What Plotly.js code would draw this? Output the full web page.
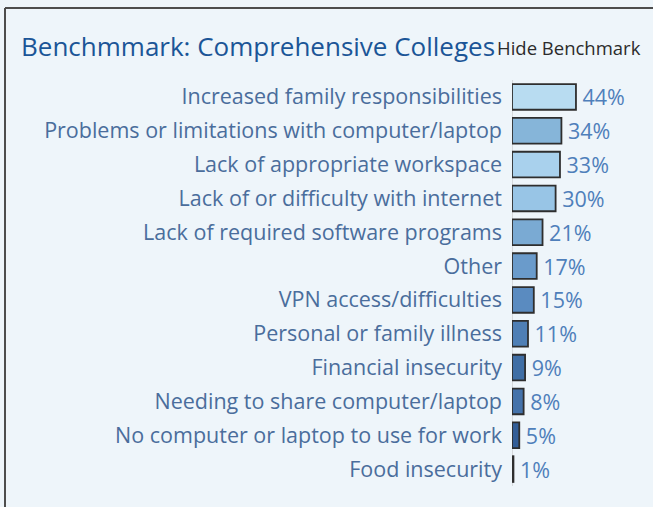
<!DOCTYPE html>
<html>
<head>
<meta charset="utf-8">
<script src="https://cdn.plot.ly/plotly-3.0.1.min.js"></script>
<style>
html,body{margin:0;padding:0;background:#eef5fa;}
#chart{width:653px;height:507px;}
</style>
</head>
<body>
<div id="chart"></div>
<script>
const categories = [
  "Increased family responsibilities",
  "Problems or limitations with computer/laptop",
  "Lack of appropriate workspace",
  "Lack of or difficulty with internet",
  "Lack of required software programs",
  "Other",
  "VPN access/difficulties",
  "Personal or family illness",
  "Financial insecurity",
  "Needing to share computer/laptop",
  "No computer or laptop to use for work",
  "Food insecurity"
];
const values = [44, 34, 33, 30, 21, 17, 15, 11, 9, 8, 5, 1];
const barColors = ["#b8dcf1", "#86b5d9", "#a9d1ed", "#98c5e6", "#7aaad3", "#6a9bcb",
                   "#5a8bc0", "#4f7fb5", "#3f6ea5", "#4472aa", "#335e97", "#1c2f4a"];
const titleText = "Benchmmark: Comprehensive Colleges";
const buttonText = "Hide Benchmark";

const trace = {
  type: "bar",
  orientation: "h",
  y: categories,
  x: values,
  text: values.map(v => "\u2009" + v + "%"),
  textposition: "outside",
  cliponaxis: false,
  constraintext: "none",
  textfont: {family: "Open Sans", size: 21.5, color: "#4f7fba"},
  marker: {color: barColors, line: {color: "#2e2e2e", width: 1.8}},
  width: 0.76,
  hoverinfo: "none"
};

const pw = 141, ph = 406, pl = 512, pt = 80;
function px(xPix){ return (xPix - pl) / pw; }
function py(yPix){ return (pt + ph - yPix) / ph; }

const layout = {
  width: 653, height: 507,
  paper_bgcolor: "#eef5fa",
  plot_bgcolor: "#eef5fa",
  margin: {l: pl, r: 0, t: pt, b: 21, pad: 0},
  showlegend: false,
  xaxis: {range: [0, 97], showgrid: false, showticklabels: false, zeroline: true,
          zerolinecolor: "#d6d9dc", zerolinewidth: 1, fixedrange: true},
  yaxis: {autorange: "reversed", type: "category", showgrid: false, zeroline: false,
          ticks: "", ticklabelstandoff: 9,
          tickfont: {family: "Open Sans", size: 21.5, color: "#4a6d9c"}},
  shapes: [
    {type: "line", xref: "paper", yref: "paper", x0: px(5), x1: px(660), y0: py(8), y1: py(8),
     line: {color: "#4d4d4d", width: 2}},
    {type: "line", xref: "paper", yref: "paper", x0: px(5), x1: px(5), y0: py(8), y1: py(520),
     line: {color: "#4d4d4d", width: 2}}
  ],
  annotations: [
    {xref: "paper", yref: "paper", x: px(19), y: py(46), xanchor: "left", yanchor: "middle",
     text: titleText, showarrow: false, font: {family: "Open Sans", size: 26, color: "#1b5597"}},
    {xref: "paper", yref: "paper", x: px(495), y: py(47), xanchor: "left", yanchor: "middle",
     text: buttonText, showarrow: false, font: {family: "Open Sans", size: 18.5, color: "#2b2b2b"}}
  ]
};

Plotly.newPlot("chart", [trace], layout, {displayModeBar: false, staticPlot: true});
</script>
</body>
</html>
